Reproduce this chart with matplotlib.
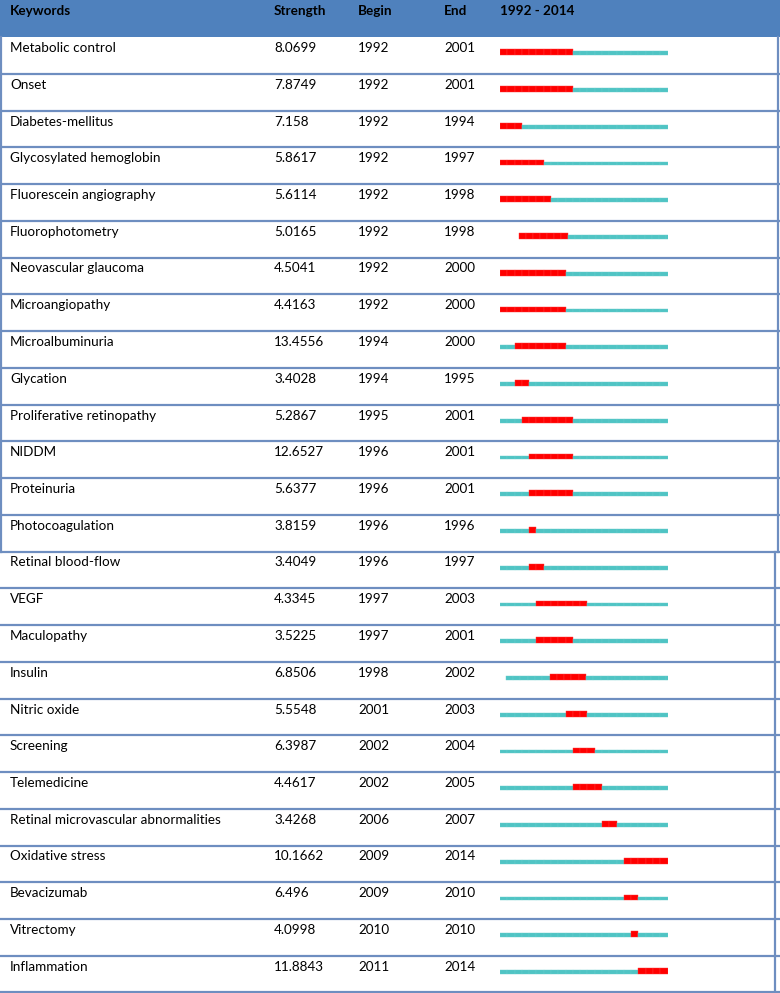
import matplotlib
matplotlib.use('Agg')
import matplotlib.pyplot as plt
from matplotlib.patches import Rectangle

plt.rcParams['font.family'] = ['Lato', 'DejaVu Sans']

# 数据
keywords = [
    'Metabolic control', 'Onset', 'Diabetes-mellitus', 'Glycosylated hemoglobin',
    'Fluorescein angiography', 'Fluorophotometry', 'Neovascular glaucoma',
    'Microangiopathy', 'Microalbuminuria', 'Glycation', 'Proliferative retinopathy',
    'NIDDM', 'Proteinuria', 'Photocoagulation', 'Retinal blood-flow', 'VEGF',
    'Maculopathy', 'Insulin', 'Nitric oxide', 'Screening', 'Telemedicine',
    'Retinal microvascular abnormalities', 'Oxidative stress', 'Bevacizumab',
    'Vitrectomy', 'Inflammation',
]
strength = [
    '8.0699', '7.8749', '7.158', '5.8617', '5.6114', '5.0165', '4.5041', '4.4163',
    '13.4556', '3.4028', '5.2867', '12.6527', '5.6377', '3.8159', '3.4049', '4.3345',
    '3.5225', '6.8506', '5.5548', '6.3987', '4.4617', '3.4268', '10.1662', '6.496',
    '4.0998', '11.8843',
]
begin = [1992, 1992, 1992, 1992, 1992, 1992, 1992, 1992, 1994, 1994, 1995, 1996, 1996,
         1996, 1996, 1997, 1997, 1998, 2001, 2002, 2002, 2006, 2009, 2009, 2010, 2011]
end = [2001, 2001, 1994, 1997, 1998, 1998, 2000, 2000, 2000, 1995, 2001, 2001, 2001,
       1996, 1997, 2003, 2001, 2002, 2003, 2004, 2005, 2007, 2014, 2010, 2010, 2014]
first_year, last_year = 1992, 2014

# 截图里个别行的时间条有偏移 (行号: 偏移年数, 缩放)
row_shift = {5: (2.6, 0.96), 17: (0.8, 1.0)}

W, H = 780, 993
HEADER_H = 37
ROW_H = 36.75
FS = 9.7
BLUE = '#4F81BD'
LINE = '#6E8EC0'
TEAL = '#4FC4C4'
TEAL_EDGE = '#66CCCC'
RED = '#FF0000'
RED_EDGE = '#FF3838'

fig = plt.figure(figsize=(W / 100, H / 100), dpi=100)
ax = fig.add_axes([0, 0, 1, 1])
ax.set_xlim(0, W)
ax.set_ylim(H, 0)
ax.axis('off')

# 表头
ax.add_patch(Rectangle((0, 0), W, HEADER_H, color=BLUE, lw=0))
header = [('Keywords', 10), ('Strength', 274), ('Begin', 358), ('End', 444), ('1992 - 2014', 500)]
for txt, x in header:
    ax.text(x, 11, txt, fontsize=FS, fontweight='bold', color='black', va='center', ha='left')

n = len(keywords)
for i in range(n):
    top = HEADER_H + i * ROW_H
    yc = top + 11
    ax.text(10, yc, keywords[i], fontsize=FS, va='center', ha='left')
    ax.text(274, yc, strength[i], fontsize=FS, va='center', ha='left')
    ax.text(358, yc, str(begin[i]), fontsize=FS, va='center', ha='left')
    ax.text(444, yc, str(end[i]), fontsize=FS, va='center', ha='left')
    if i > 0:
        ax.plot([0, W], [top, top], color=LINE, lw=1.6, solid_capstyle='butt')
ax.plot([0, W], [H - 1.5, H - 1.5], color=LINE, lw=1.6)

# 边框
split = HEADER_H + 14 * ROW_H
ax.plot([1, 1], [HEADER_H, split], color=LINE, lw=1.6)
ax.plot([778, 778], [HEADER_H, split], color=LINE, lw=1.6)
ax.plot([775, 775], [split, H], color=LINE, lw=1.6)

# 时间条
x0, x1 = 500, 667.5
axb = fig.add_axes([x0 / W, 0, (x1 - x0) / W, 1])
axb.set_xlim(first_year, last_year + 1)
base = HEADER_H + 18
axb.set_ylim((H - base) / ROW_H, -base / ROW_H)
axb.axis('off')

teal_h = 3.7 / ROW_H
red_h = 5.6 / ROW_H
for i in range(n):
    shift, scale = row_shift.get(i, (0.0, 1.0))
    for yr in range(first_year, last_year + 1):
        left = first_year + shift + (yr - first_year) * scale
        if begin[i] <= yr <= end[i]:
            axb.bar(left, -red_h, width=scale, bottom=i, align='edge',
                    color=RED, edgecolor=RED_EDGE, lw=0.3)
        else:
            axb.bar(left, -teal_h, width=scale, bottom=i, align='edge',
                    color=TEAL, edgecolor=TEAL_EDGE, lw=0.3)

fig.savefig('out.png', dpi=100)
